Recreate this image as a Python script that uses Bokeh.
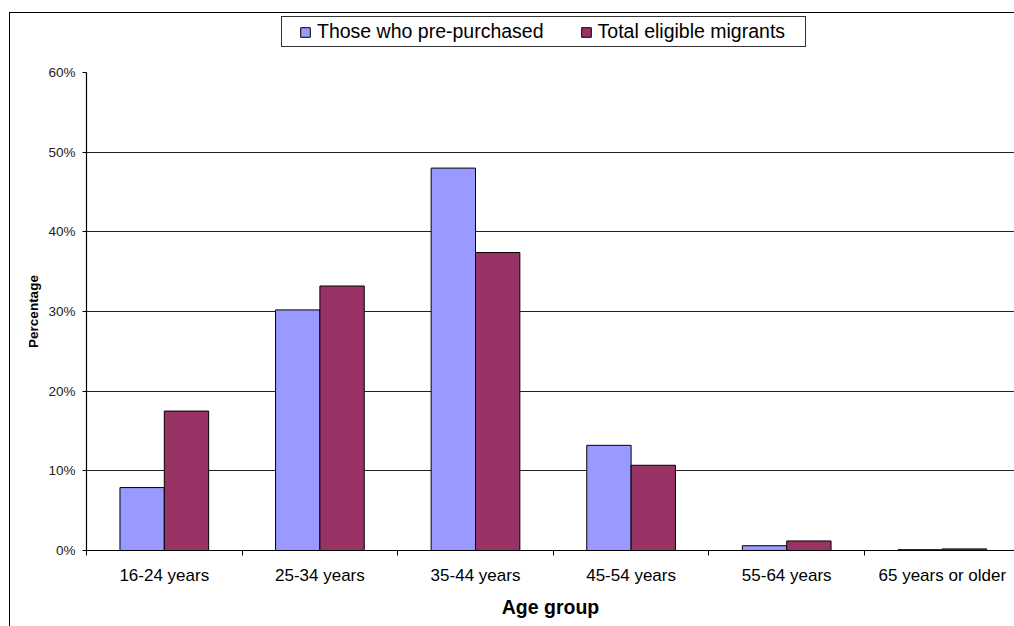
from bokeh.plotting import figure
from bokeh.layouts import column
from bokeh.models import (Range1d, FixedTicker, Legend, LegendItem,
                          ColumnDataSource, InlineStyleSheet)
from bokeh.transform import dodge
from bokeh.embed import file_html
from bokeh.resources import INLINE

# ---- data ----
categories = ["16-24 years", "25-34 years", "35-44 years", "45-54 years",
              "55-64 years", "65 years or older"]
pre_purchased = [7.9, 30.2, 48.0, 13.2, 0.6, 0.1]
total_eligible = [17.5, 33.2, 37.4, 10.7, 1.2, 0.2]
y_ticks = [0, 10, 20, 30, 40, 50, 60]
y_tick_labels = ["0%", "10%", "20%", "30%", "40%", "50%", "60%"]
series_names = ["Those who pre-purchased", "Total eligible migrants"]

FONT = "Liberation Sans"
BLUE = "#9999FF"
RED = "#993366"

centers = [i + 0.5 for i in range(len(categories))]
src = ColumnDataSource(dict(x=centers, a=pre_purchased, b=total_eligible))
bw = 0.285

STRIP_H = 62

# ---------------- main chart ----------------
p = figure(width=1014, height=626 - STRIP_H, output_backend="svg", toolbar_location=None,
           x_range=Range1d(0, 928 / 155.6), y_range=Range1d(0, 60),
           min_border_left=86, min_border_right=0, min_border_top=72 - STRIP_H,
           min_border_bottom=76)
p.outline_line_color = None
p.background_fill_color = "white"
p.border_fill_color = "white"

bar_style_a = dict(fill_color=BLUE, line_color="black", line_width=1)
bar_style_b = dict(fill_color=RED, line_color="black", line_width=1)

p.vbar(x=dodge("x", -bw / 2, range=p.x_range), top="a", width=bw, source=src, **bar_style_a)
p.vbar(x=dodge("x", bw / 2, range=p.x_range), top="b", width=bw, source=src, **bar_style_b)

xa = p.xaxis[0]
xa.ticker = FixedTicker(ticks=centers, minor_ticks=list(range(len(categories) + 1)))
xa.major_label_overrides = {c: lab for c, lab in zip(centers, categories)}
xa.major_tick_out = 0
xa.major_tick_in = 0
xa.minor_tick_out = 5
xa.minor_tick_in = 0
xa.minor_tick_line_color = "black"
xa.axis_line_color = "black"
xa.axis_line_width = 1.2
xa.major_label_text_font = FONT
xa.major_label_text_font_size = "17px"
xa.major_label_text_color = "black"
xa.major_label_standoff = 10
xa.axis_label = "Age group"
xa.axis_label_text_font = FONT
xa.axis_label_text_font_size = "19.5px"
xa.axis_label_text_font_style = "bold"
xa.axis_label_text_color = "black"
xa.axis_label_standoff = 8

ya = p.yaxis[0]
ya.ticker = FixedTicker(ticks=y_ticks, minor_ticks=[])
ya.major_label_overrides = {t: lab for t, lab in zip(y_ticks, y_tick_labels)}
ya.major_tick_out = 4
ya.major_tick_in = 0
ya.major_tick_line_color = "black"
ya.axis_line_color = "black"
ya.axis_line_width = 1.2
ya.major_label_text_font = FONT
ya.major_label_text_font_size = "13.5px"
ya.major_label_text_color = "#222222"
ya.major_label_standoff = 7
ya.axis_label = "Percentage"
ya.axis_label_text_font = FONT
ya.axis_label_text_font_size = "13.5px"
ya.axis_label_text_font_style = "bold"
ya.axis_label_text_color = "black"
ya.axis_label_standoff = 4

p.xgrid.visible = False
p.ygrid.ticker = FixedTicker(ticks=y_ticks)
p.ygrid.grid_line_color = "#222222"
p.ygrid.grid_line_width = 1

p.stylesheets = [InlineStyleSheet(css="""
:host { position: relative; }
:host::before { content: ""; position: absolute; left: 9px; top: 0; bottom: 0; width: 0;
  border-left: 1.5px solid #000; pointer-events: none; z-index: 5; }
""")]

# ---------------- legend strip (top of the chart area) ----------------
lg = figure(width=1014, height=STRIP_H, output_backend="svg", toolbar_location=None,
            x_range=Range1d(0, 1), y_range=Range1d(100, 101),
            x_axis_type=None, y_axis_type=None,
            min_border_left=0, min_border_right=0, min_border_top=0, min_border_bottom=0)
lg.outline_line_color = None
lg.grid.visible = False
lg.background_fill_color = "white"
lg.border_fill_color = "white"
# same series, outside this strip's view: only used for their legend swatches
ra = lg.vbar(x="x", top="a", width=bw, source=src, **bar_style_a)
rb = lg.vbar(x="x", top="b", width=bw, source=src, **bar_style_b)

legend = Legend(items=[LegendItem(label=series_names[0], renderers=[ra]),
                       LegendItem(label=series_names[1], renderers=[rb])],
                orientation="horizontal", location=(213, 19),
                glyph_width=12, glyph_height=12, label_standoff=6, spacing=36,
                padding=0, margin=0, border_line_alpha=0, background_fill_alpha=0,
                label_text_font=FONT, label_text_font_size="19.5px",
                label_text_color="black")
lg.add_layout(legend, "center")

lg.stylesheets = [InlineStyleSheet(css="""
:host { position: relative; }
:host::before { content: ""; position: absolute; left: 9px; top: 12px; right: 0; bottom: 0;
  border-left: 1.5px solid #000; border-top: 1.5px solid #000; pointer-events: none; z-index: 5; }
:host::after { content: ""; position: absolute; left: 281px; top: 15.5px; width: 525px; height: 31px;
  box-sizing: border-box; border: 1px solid #333; pointer-events: none; z-index: 5; }
""")]

layout = column(lg, p, spacing=0)
open("out.html", "w").write(file_html(layout, INLINE))
